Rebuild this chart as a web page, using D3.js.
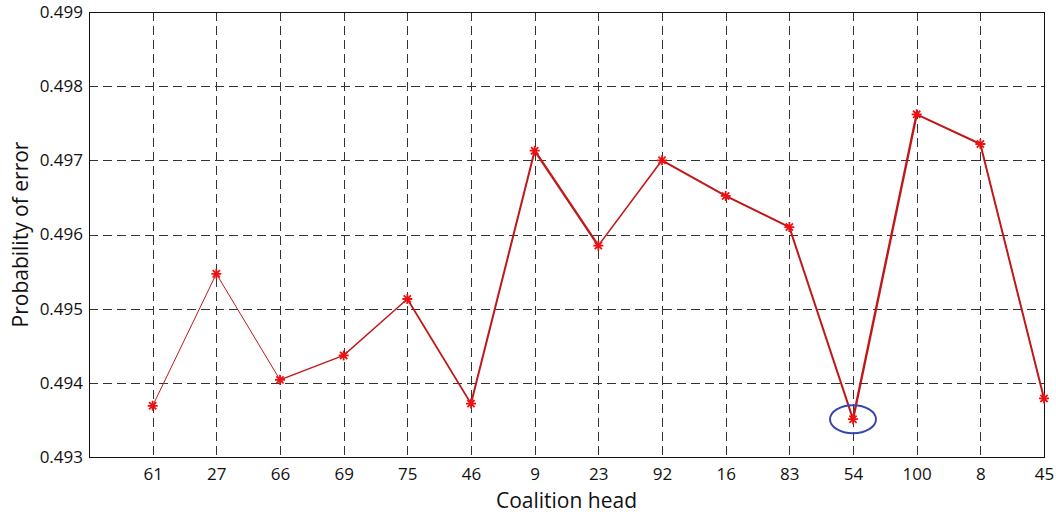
<!DOCTYPE html>
<html>
<head>
<meta charset="utf-8">
<script src="https://cdn.jsdelivr.net/npm/d3@7"></script>
<style>
  body { margin: 0; background: #fff; }
  text { font-family: "Open Sans", "Noto Sans", sans-serif; fill: #111; }
</style>
</head>
<body>
<div id="canvas"></div>
<script>
// data
const heads = ['61', '27', '66', '69', '75', '46', '9', '23', '92', '16', '83', '54', '100', '8', '45'];
const errProb = [0.49369, 0.49547, 0.49404, 0.49437, 0.49513, 0.49372, 0.49713, 0.49585,
                 0.49700, 0.49652, 0.49610, 0.49351, 0.49762, 0.49722, 0.49379];
const yTicks = [0.493, 0.494, 0.495, 0.496, 0.497, 0.498, 0.499];
const markedHead = '54';

// segment thickness, the original line gets heavier to the right
const segWidth = [1, 1, 1.4, 1.4, 1.8, 2, 2.4, 1.6, 2, 2, 2, 2.4, 2, 2];

const width = 1056, height = 515;
const margin = { top: 12, right: 12, bottom: 58, left: 89 };
const graphWidth = width - margin.left - margin.right;
const graphHeight = height - margin.top - margin.bottom;

const svg = d3.select('#canvas')
  .append('svg')
  .attr('width', width)
  .attr('height', height);

const graph = svg.append('g')
  .attr('transform', `translate(${margin.left}, ${margin.top})`);

// scales
const x = d3.scaleLinear().domain([0, heads.length]).range([0, graphWidth]);
const y = d3.scaleLinear().domain([0.493, 0.499]).range([graphHeight, 0]);

const data = heads.map((h, i) => ({ head: h, pos: i + 1, value: errProb[i] }));

// grid lines
graph.append('g')
  .selectAll('line')
  .data(yTicks.slice(1, -1))
  .enter().append('line')
    .attr('x1', 0)
    .attr('x2', graphWidth)
    .attr('y1', d => Math.round(y(d)) + 0.5)
    .attr('y2', d => Math.round(y(d)) + 0.5)
    .attr('stroke', '#333')
    .attr('stroke-width', 1)
    .attr('stroke-dasharray', '9,5');

graph.append('g')
  .selectAll('line')
  .data(data)
  .enter().append('line')
    .attr('x1', d => Math.round(x(d.pos)) + 0.5)
    .attr('x2', d => Math.round(x(d.pos)) + 0.5)
    .attr('y1', 0)
    .attr('y2', graphHeight)
    .attr('stroke', '#333')
    .attr('stroke-width', 1)
    .attr('stroke-dasharray', '9,5');

// frame
graph.append('rect')
  .attr('x', 0.5)
  .attr('y', 0.5)
  .attr('width', graphWidth)
  .attr('height', graphHeight)
  .attr('fill', 'none')
  .attr('stroke', '#111')
  .attr('stroke-width', 1);

// axes
const xAxis = d3.axisBottom(x)
  .tickValues(data.map(d => d.pos))
  .tickFormat((d, i) => heads[i])
  .tickSize(0)
  .tickPadding(11);

const yAxis = d3.axisLeft(y)
  .tickValues(yTicks)
  .tickFormat(d3.format('.3f'))
  .tickSize(0)
  .tickPadding(6);

const xAxisGroup = graph.append('g')
  .attr('transform', `translate(0, ${graphHeight})`)
  .call(xAxis);
const yAxisGroup = graph.append('g').call(yAxis);

[xAxisGroup, yAxisGroup].forEach(g => {
  g.select('.domain').remove();
  g.selectAll('text')
    .style('font-family', '"Open Sans", "Noto Sans", sans-serif')
    .style('font-size', '17px')
    .attr('fill', '#111');
});

// axis titles
svg.append('text')
  .attr('x', margin.left + graphWidth / 2)
  .attr('y', 508)
  .attr('text-anchor', 'middle')
  .style('font-size', '21px')
  .text('Coalition head');

svg.append('text')
  .attr('transform', `translate(28, ${margin.top + graphHeight / 2}) rotate(-90)`)
  .attr('text-anchor', 'middle')
  .style('font-size', '21px')
  .text('Probability of error');

// line, drawn one segment at a time
const line = d3.line()
  .x(d => x(d.pos))
  .y(d => y(d.value));

graph.append('g')
  .selectAll('path')
  .data(d3.pairs(data))
  .enter().append('path')
    .attr('d', line)
    .attr('fill', 'none')
    .attr('stroke', '#c01818')
    .attr('stroke-width', (d, i) => segWidth[i])
    .attr('stroke-linecap', 'round');

// asterisk markers
const star = 'M-5,0H5M0,-5V5M-3.6,-3.6L3.6,3.6M-3.6,3.6L3.6,-3.6';
graph.append('g')
  .selectAll('path')
  .data(data)
  .enter().append('path')
    .attr('transform', d => `translate(${x(d.pos)}, ${y(d.value)})`)
    .attr('d', star)
    .attr('fill', 'none')
    .attr('stroke', '#ee1111')
    .attr('stroke-width', 1.8);

// highlight the minimum
const marked = data.find(d => d.head === markedHead);
graph.append('ellipse')
  .attr('cx', x(marked.pos))
  .attr('cy', y(marked.value))
  .attr('rx', 23)
  .attr('ry', 14)
  .attr('fill', 'none')
  .attr('stroke', '#3a46b0')
  .attr('stroke-width', 2);
</script>
</body>
</html>
